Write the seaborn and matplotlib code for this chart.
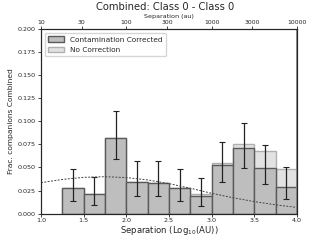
import numpy as np
import pandas as pd
import matplotlib
matplotlib.use("Agg")
import matplotlib.pyplot as plt
from matplotlib.patches import Patch
import seaborn as sns

sns.set_style("ticks")
plt.rcParams['font.family'] = ['DejaVu Sans']

# ---- data ----
bin_edges = [1.25, 1.5, 1.75, 2.0, 2.25, 2.5, 2.75, 3.0, 3.25, 3.5, 3.75, 4.0]
bin_centers = [1.375, 1.625, 1.875, 2.125, 2.375, 2.625, 2.875, 3.125, 3.375, 3.625, 3.875]
frac_corrected = [0.0274, 0.0207, 0.0817, 0.0339, 0.0335, 0.0274, 0.0194, 0.0527, 0.0709, 0.0498, 0.0291]
frac_uncorrected = [0.0274, 0.0207, 0.0817, 0.0339, 0.0335, 0.0274, 0.0208, 0.0549, 0.0752, 0.0679, 0.0480]
err_low = [0.0139, 0.0092, 0.0589, 0.0194, 0.0190, 0.0136, 0.0078, 0.0339, 0.0490, 0.0317, 0.0154]
err_high = [0.0480, 0.0400, 0.1107, 0.0567, 0.0567, 0.0480, 0.0383, 0.0780, 0.0987, 0.0748, 0.0509]
model_x = [1.0, 1.25, 1.5, 1.75, 2.0, 2.25, 2.5, 2.75, 3.0, 3.25, 3.5, 3.75, 4.0]
model_y = [0.0335, 0.0370, 0.0393, 0.0400, 0.0390, 0.0365, 0.0325, 0.0275, 0.0220, 0.0172, 0.0130, 0.0095, 0.0067]
top_tick_vals = [10, 30, 100, 300, 1000, 3000, 10000]
top_tick_labels = ["10", "30", "100", "300", "1000", "3000", "10000"]

df = pd.DataFrame({"x": bin_centers, "corr": frac_corrected, "uncorr": frac_uncorrected,
                   "lo": err_low, "hi": err_high})

fig = plt.figure(figsize=(3.3, 2.4), dpi=100)
ax = fig.add_axes([0.124, 0.110, 0.776, 0.769])

sns.histplot(data=df, x="x", weights="uncorr", bins=bin_edges, ax=ax,
             color="#e2e2e2", edgecolor="#b0b0b0", alpha=1.0, linewidth=1.0)
sns.histplot(data=df, x="x", weights="corr", bins=bin_edges, ax=ax,
             color="#bebebe", edgecolor="#5a5a5a", alpha=1.0, linewidth=1.0)

yerr = np.array([df["corr"] - df["lo"], df["hi"] - df["corr"]])
ax.errorbar(df["x"], df["corr"], yerr=yerr, fmt="none", ecolor="#222222",
            elinewidth=0.9, capsize=2, capthick=0.8)

sns.lineplot(x=model_x, y=model_y, ax=ax, color="#444444", linestyle=(0, (2, 1.5)),
             linewidth=0.7)

ax.axvline(4.0, color="#8a8a8a", linewidth=2.0)

ax.set_xlim(1.0, 4.0)
ax.set_ylim(0.0, 0.2)
ax.set_xticks([1.0, 1.5, 2.0, 2.5, 3.0, 3.5, 4.0])
ax.set_yticks([0.0, 0.025, 0.05, 0.075, 0.1, 0.125, 0.15, 0.175, 0.2])
ax.xaxis.set_major_formatter(matplotlib.ticker.FormatStrFormatter("%.1f"))
ax.yaxis.set_major_formatter(matplotlib.ticker.FormatStrFormatter("%.3f"))
ax.tick_params(labelsize=4.6, length=2.5, width=0.6, pad=1)
ax.set_xlabel(r"Separation (Log$_{10}$(AU))", fontsize=6.1, labelpad=0.5)
ax.set_ylabel("Frac. companions Combined", fontsize=5.4, labelpad=2.5)
for s in ax.spines.values():
    s.set_linewidth(0.8)

ax2 = ax.twiny()
ax2.set_xlim(1.0, 4.0)
ax2.set_xticks(np.log10(top_tick_vals))
ax2.set_xticklabels(top_tick_labels)
ax2.tick_params(labelsize=4.4, length=2.5, width=0.6, pad=0.5)
ax2.set_xlabel("Separation (au)", fontsize=4.6, labelpad=1)

handles = [Patch(facecolor="#bebebe", edgecolor="#5a5a5a", label="Contamination Corrected"),
           Patch(facecolor="#e2e2e2", edgecolor="#b0b0b0", label="No Correction")]
ax.legend(handles=handles, loc="upper left", fontsize=5.3, frameon=True,
          borderpad=0.5, handlelength=2.1, handletextpad=0.8, labelspacing=0.55)

fig.suptitle("Combined: Class 0 - Class 0", fontsize=7.2, y=0.99)

fig.savefig("out.png", dpi=100)
